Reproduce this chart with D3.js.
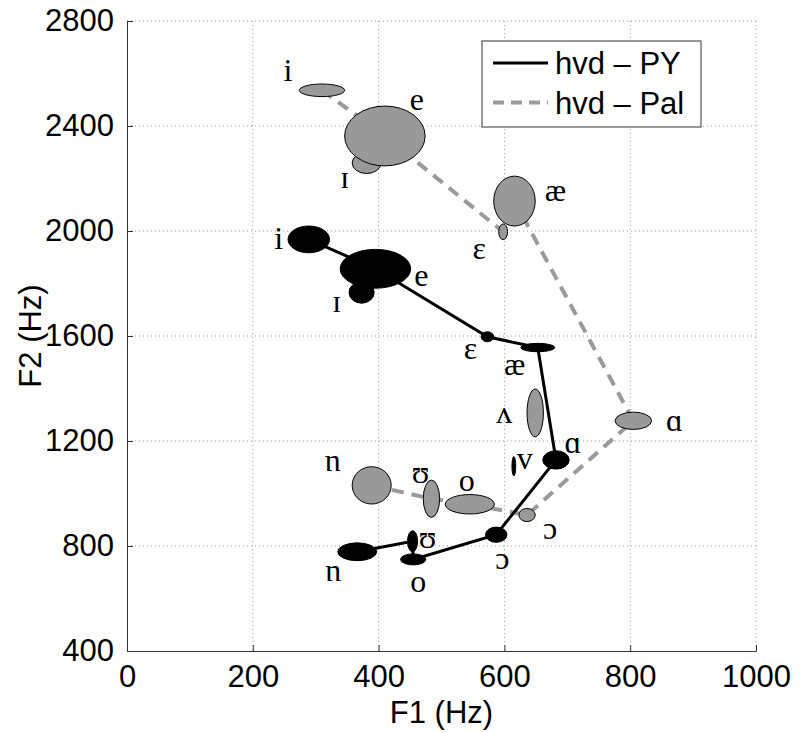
<!DOCTYPE html>
<html>
<head>
<meta charset="utf-8">
<script src="https://cdnjs.cloudflare.com/ajax/libs/d3/7.8.5/d3.min.js"></script>
<style>
  html, body { margin: 0; padding: 0; background: #fff; }
  svg { display: block; }
</style>
</head>
<body>
<div id="chart"></div>
<script>
// ---------------- DATA ----------------
const vowels = ["i", "ɪ", "e", "ɛ", "æ", "ʌ", "ɑ", "ɔ", "o", "ʊ", "u"];
const pathOrder = ["i", "e", "ɛ", "æ", "ɑ", "ɔ", "o", "ʊ", "u"];

// hvd – PY : mean F1, mean F2, spread F1, spread F2 (Hz)
const pyF1   = [289, 373, 395, 573, 653, 615, 682, 587, 455, 454, 366];
const pyF2   = [1968, 1766, 1856, 1597, 1556, 1104, 1128, 843, 749, 818, 778];
const pySdF1 = [33, 20, 56, 10, 27, 3, 21, 17, 20, 8, 31];
const pySdF2 = [51, 41, 74, 19, 16, 37, 35, 29, 21, 40, 34];

// hvd – Pal
const palF1   = [310, 381, 410, 598, 616, 649, 805, 636, 545, 484, 389];
const palF2   = [2536, 2259, 2362, 1997, 2114, 1307, 1277, 918, 959, 980, 1031];
const palSdF1 = [36, 23, 64, 7, 33, 13, 29, 13, 39, 13, 31];
const palSdF2 = [24, 40, 114, 30, 95, 91, 33, 25, 37, 71, 71];

const seriesNames = ["hvd – PY", "hvd – Pal"];
const xTicks = [0, 200, 400, 600, 800, 1000];
const yTicks = [400, 800, 1200, 1600, 2000, 2400, 2800];

// ---------------- LAYOUT (label offsets in px, rotation flags) ----------------
const pyLabelDx  = [-30, -25, 46, -17, -23, 11, 17, 6, 5, 15, -24];
const pyLabelDy  = [-1, 9, 6, 11, 16, -1, -18, 23, 22, -4, 25];
const pyLabelRot = [0, 0, 0, 0, 0, 180, 0, 0, 0, 0, 180];
const palLabelDx  = [-34, -22, 32, -24, 41, -31, 41, 23, -3, -11, -39];
const palLabelDy  = [-20, 14, -37, 16, -11, -1, -1, 13, -24, -27, -18];
const palLabelRot = [0, 0, 0, 0, 0, 0, 0, 0, 0, 0, 180];

// ---------------- CHART ----------------
const W = 800, H = 733;
const margin = { left: 127, top: 21, right: 44, bottom: 82 };
const pw = W - margin.left - margin.right;   // 629
const ph = H - margin.top - margin.bottom;   // 630

const x = d3.scaleLinear().domain([0, 1000]).range([0, pw]);
const y = d3.scaleLinear().domain([400, 2800]).range([ph, 0]);

const svg = d3.select("#chart").append("svg")
  .attr("width", W).attr("height", H);
const g = svg.append("g").attr("transform", `translate(${margin.left},${margin.top})`);

const sansFont = "'Liberation Sans', Arial, Helvetica, sans-serif";
const serifFont = "'Liberation Serif', 'DejaVu Serif', 'Times New Roman', serif";

// grid
const grid = g.append("g").attr("class", "grid");
grid.selectAll("line.gx").data(xTicks.filter(d => d > 0)).join("line")
  .attr("x1", d => x(d)).attr("x2", d => x(d))
  .attr("y1", 0).attr("y2", ph)
  .attr("stroke", "#9a9a9a").attr("stroke-width", 1).attr("stroke-dasharray", "1,3");
grid.selectAll("line.gy").data(yTicks.filter(d => d > 400)).join("line")
  .attr("y1", d => y(d)).attr("y2", d => y(d))
  .attr("x1", 0).attr("x2", pw)
  .attr("stroke", "#9a9a9a").attr("stroke-width", 1).attr("stroke-dasharray", "1,3");

// axes
const xAxis = d3.axisBottom(x).tickValues(xTicks).tickSize(-6).tickPadding(14).tickFormat(d3.format("d"));
const yAxis = d3.axisLeft(y).tickValues(yTicks).tickSize(-6).tickPadding(13).tickFormat(d3.format("d"));

const gx = g.append("g").attr("transform", `translate(0,${ph})`).call(xAxis);
const gy = g.append("g").call(yAxis);
[gx, gy].forEach(a => {
  a.select(".domain").attr("stroke", "#333").attr("stroke-width", 1);
  a.selectAll(".tick line").attr("stroke", "#333");
  a.selectAll(".tick text").attr("fill", "#000")
    .style("font-family", sansFont).style("font-size", "31px");
});
gx.selectAll(".tick").filter(d => d === 0).select("line").remove();
gy.selectAll(".tick").filter(d => d === 400).select("line").remove();

// axis titles
svg.append("text")
  .attr("x", margin.left + x(500)).attr("y", 723)
  .attr("text-anchor", "middle")
  .style("font-family", sansFont).style("font-size", "31px")
  .text("F1 (Hz)");
svg.append("text")
  .attr("transform", `translate(41,${margin.top + y(1600)}) rotate(-90)`)
  .attr("text-anchor", "middle")
  .style("font-family", sansFont).style("font-size", "31px")
  .text("F2 (Hz)");

// build series records
function buildSeries(f1, f2, s1, s2, dx, dy, rot) {
  return vowels.map((v, i) => ({ v, f1: f1[i], f2: f2[i], s1: s1[i], s2: s2[i], dx: dx[i], dy: dy[i], rot: rot[i] }));
}
const pyData = buildSeries(pyF1, pyF2, pySdF1, pySdF2, pyLabelDx, pyLabelDy, pyLabelRot);
const palData = buildSeries(palF1, palF2, palSdF1, palSdF2, palLabelDx, palLabelDy, palLabelRot);

const line = d3.line().x(d => x(d.f1)).y(d => y(d.f2));

function drawSeries(data, style) {
  const byV = new Map(data.map(d => [d.v, d]));
  const pts = pathOrder.map(v => byV.get(v));
  const sg = g.append("g");
  sg.append("path").datum(pts)
    .attr("d", line)
    .attr("fill", "none")
    .attr("stroke", style.lineColor)
    .attr("stroke-width", style.lineWidth)
    .attr("stroke-dasharray", style.dash || null);
  sg.selectAll("ellipse").data(data).join("ellipse")
    .attr("cx", d => x(d.f1)).attr("cy", d => y(d.f2))
    .attr("rx", d => x(d.s1) - x(0)).attr("ry", d => y(0) - y(d.s2))
    .attr("fill", style.fill).attr("stroke", "#000").attr("stroke-width", 1);
  sg.selectAll("text").data(data).join("text")
    .attr("transform", d => `translate(${x(d.f1) + d.dx},${y(d.f2) + d.dy}) rotate(${d.rot})`)
    .attr("text-anchor", "middle")
    .attr("dominant-baseline", "central")
    .style("font-family", serifFont).style("font-size", "32px")
    .attr("fill", "#000")
    .text(d => d.v);
}

drawSeries(palData, { lineColor: "#9a9a9a", lineWidth: 4, dash: "12,8", fill: "#999999" });
drawSeries(pyData, { lineColor: "#000", lineWidth: 3, fill: "#000" });

// legend
const lg = svg.append("g").attr("transform", "translate(482,41)");
lg.append("rect").attr("width", 219).attr("height", 86)
  .attr("fill", "#fff").attr("stroke", "#333").attr("stroke-width", 1);
const legendStyles = [
  { color: "#000", width: 3, dash: null },
  { color: "#9a9a9a", width: 4, dash: "11,7" }
];
seriesNames.forEach((name, i) => {
  const yy = 22 + i * 39.5;
  lg.append("line").attr("x1", 11).attr("x2", 66).attr("y1", yy).attr("y2", yy)
    .attr("stroke", legendStyles[i].color).attr("stroke-width", legendStyles[i].width)
    .attr("stroke-dasharray", legendStyles[i].dash);
  lg.append("text").attr("x", 73).attr("y", yy + 11)
    .style("font-family", sansFont).style("font-size", "31px")
    .text(name);
});
</script>
</body>
</html>
